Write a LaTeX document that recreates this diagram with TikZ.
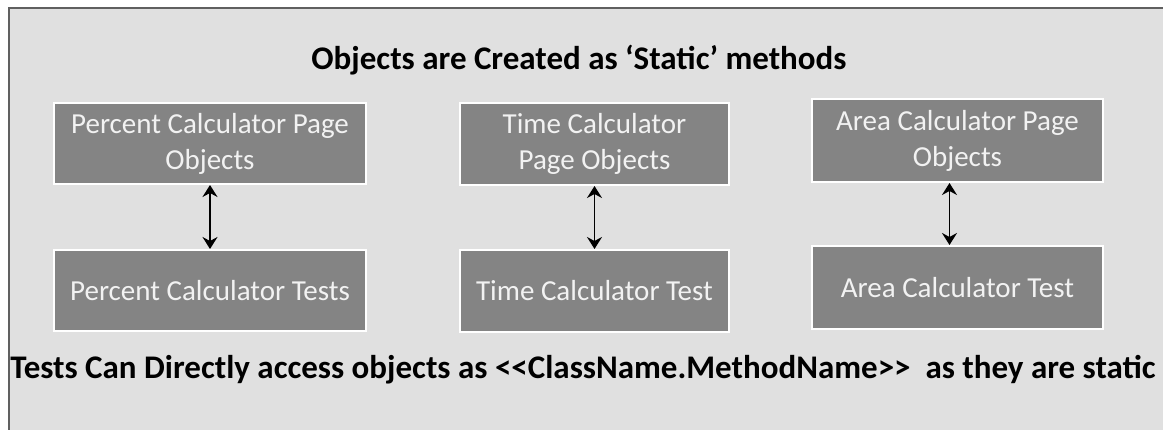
\documentclass[tikz,border=0pt]{standalone}
\usepackage{fontspec}
\setmainfont{Carlito}
\usepackage{tikz}
\usetikzlibrary{
  arrows.meta,
  positioning
}
\definecolor{pagegray}{RGB}{224,224,224}
\definecolor{framegray}{RGB}{96,96,96}
\definecolor{boxgray}{RGB}{132,132,132}
\definecolor{boxtext}{RGB}{242,242,242}
\tikzset{
  pagebox/.style={
    rectangle, draw=white, line width=2pt, fill=boxgray,
    text=boxtext, align=center, inner sep=2pt,
    font=\fontsize{29}{36}\selectfont
  },
  headline/.style={
    font=\fontsize{33}{38}\selectfont\bfseries, text=black
  },
  arrowD/.style={{Stealth[length=12pt,width=15pt,inset=4pt]}-{Stealth[length=12pt,width=15pt,inset=4pt]}, line width=1.8pt, color=black}
}

\begin{document}
\begin{tikzpicture}[x=1pt, y=-1pt, node distance=64pt]
  \clip (0,0) rectangle (1163,430);
  \useasboundingbox (0,0) rectangle (1163,430);
  \fill[white] (0,0) rectangle (1163,430);
  \draw[framegray, line width=2pt, fill=pagegray] (9,8) rectangle (1180,450);

  \node[headline] (title) at (579,60) {Objects are Created as `Static' methods};

  % page objects
  \node[pagebox, minimum width=312pt, minimum height=81pt]
    (pco) at (210,143.5) {Percent Calculator Page\\Objects};
  \node[pagebox, minimum width=269pt, minimum height=82pt]
    (tco) at (594.5,144) {Time Calculator\\Page Objects};
  \node[pagebox, minimum width=291pt, minimum height=83pt]
    (aco) at (957.5,140.5) {Area Calculator Page\\Objects};

  % tests
  \node[pagebox, minimum width=312pt, minimum height=81pt, below=64pt of pco]
    (pct) {Percent Calculator Tests};
  \node[pagebox, minimum width=269pt, minimum height=82pt, below=63pt of tco]
    (tct) {Time Calculator Test};
  \node[pagebox, minimum width=291pt, minimum height=83pt, below=62pt of aco]
    (act) {Area Calculator Test};

  \node[headline] (note) at (583,370)
    {Tests Can Directly access objects as <{}<ClassName.MethodName>{}> \ as they are static};

  \draw[arrowD] (pco) -- (pct);
  \draw[arrowD] (tco) -- (tct);
  \draw[arrowD] ([xshift=-8pt]aco.south) -- ([xshift=-8pt]act.north);
\end{tikzpicture}
\end{document}
